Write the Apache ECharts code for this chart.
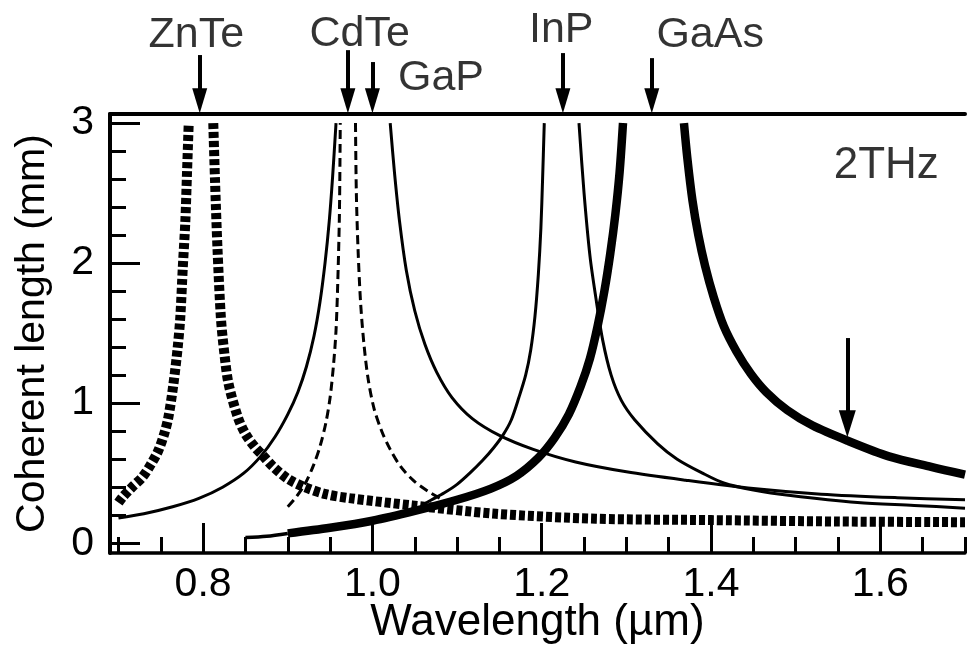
<!DOCTYPE html>
<html>
<head>
<meta charset="utf-8">
<script src="https://cdn.jsdelivr.net/npm/echarts@6/dist/echarts.min.js"></script>
<style>
html,body{margin:0;padding:0;background:#fff;}
#chart{width:967px;height:652px;}
</style>
</head>
<body>
<div id="chart"></div>
<script>
// ---------------- data ----------------
const xTickLabels = [0.8, 1.0, 1.2, 1.4, 1.6];
const xMinorTicks = [0.7, 0.75, 0.85, 0.9, 0.95, 1.05, 1.1, 1.15, 1.25, 1.3, 1.35, 1.45, 1.5, 1.55, 1.65, 1.7];
const yTickLabels = [0, 1, 2, 3];
const yMinorTicks = [0.2, 0.4, 0.6, 0.8, 1.2, 1.4, 1.6, 1.8, 2.2, 2.4, 2.6, 2.8];

// ZnTe (thick dotted)
const znteLeftX  = [0.700, 0.705, 0.716, 0.728, 0.738, 0.747, 0.754, 0.759, 0.765, 0.770, 0.773, 0.776, 0.779, 0.781, 0.783];
const znteLeftY  = [0.29, 0.33, 0.40, 0.47, 0.56, 0.66, 0.78, 0.90, 1.14, 1.40, 1.61, 1.97, 2.30, 2.65, 3.00];
const znteRightX = [0.812, 0.814, 0.817, 0.821, 0.825, 0.830, 0.841, 0.850, 0.862, 0.870, 0.882, 0.900, 0.920, 0.945, 0.975, 1.047, 1.146, 1.264, 1.400, 1.550, 1.700];
const znteRightY = [3.00, 2.60, 2.10, 1.61, 1.36, 1.14, 0.90, 0.78, 0.68, 0.63, 0.55, 0.46, 0.40, 0.35, 0.32, 0.27, 0.21, 0.175, 0.165, 0.155, 0.15];

// GaP (thin solid)
const gapLeftX  = [0.700, 0.730, 0.764, 0.795, 0.823, 0.848, 0.868, 0.885, 0.900, 0.912, 0.922, 0.931, 0.938, 0.944, 0.949, 0.953, 0.957];
const gapLeftY  = [0.18, 0.21, 0.26, 0.32, 0.40, 0.50, 0.62, 0.76, 0.92, 1.08, 1.26, 1.48, 1.72, 2.00, 2.30, 2.62, 3.00];
const gapRightX = [1.021, 1.026, 1.032, 1.040, 1.050, 1.062, 1.076, 1.094, 1.118, 1.150, 1.190, 1.240, 1.300, 1.370, 1.450, 1.530, 1.620, 1.700];
const gapRightY = [3.00, 2.65, 2.30, 1.95, 1.66, 1.42, 1.22, 1.04, 0.89, 0.77, 0.67, 0.58, 0.51, 0.45, 0.39, 0.35, 0.325, 0.31];

// CdTe (dashed)
const cdteLeftX  = [0.900, 0.910, 0.920, 0.930, 0.938, 0.945, 0.950, 0.954, 0.957, 0.959, 0.961, 0.962];
const cdteLeftY  = [0.26, 0.33, 0.42, 0.55, 0.69, 0.86, 1.04, 1.27, 1.52, 1.85, 2.35, 3.00];
const cdteRightX = [0.980, 0.981, 0.983, 0.986, 0.990, 0.995, 1.002, 1.011, 1.021, 1.033, 1.048, 1.066, 1.083];
const cdteRightY = [3.00, 2.50, 2.10, 1.72, 1.42, 1.17, 0.96, 0.80, 0.67, 0.55, 0.45, 0.37, 0.31];

// InP (thin solid)
const inpLeftX  = [1.058, 1.070, 1.085, 1.100, 1.115, 1.130, 1.143, 1.154, 1.164, 1.173, 1.181, 1.187, 1.192, 1.196, 1.199, 1.201, 1.203];
const inpLeftY  = [0.27, 0.31, 0.36, 0.42, 0.50, 0.59, 0.68, 0.77, 0.88, 1.04, 1.20, 1.38, 1.62, 1.92, 2.25, 2.60, 3.00];
const inpRightX = [1.244, 1.250, 1.257, 1.264, 1.272, 1.282, 1.294, 1.310, 1.337, 1.360, 1.390, 1.415, 1.450, 1.494, 1.573, 1.640, 1.700];
const inpRightY = [3.00, 2.50, 2.05, 1.75, 1.45, 1.20, 1.02, 0.88, 0.71, 0.60, 0.50, 0.43, 0.38, 0.34, 0.29, 0.27, 0.25];

// GaAs (thick solid)
const gaasThinX  = [0.850, 0.875, 0.900];
const gaasThinY  = [0.04, 0.05, 0.07];
const gaasLeftX  = [0.900, 0.950, 1.000, 1.050, 1.100, 1.140, 1.170, 1.196, 1.215, 1.232, 1.246, 1.257, 1.266, 1.274, 1.281, 1.287, 1.292, 1.296];
const gaasLeftY  = [0.07, 0.11, 0.16, 0.23, 0.31, 0.39, 0.48, 0.61, 0.75, 0.92, 1.12, 1.32, 1.55, 1.80, 2.07, 2.35, 2.65, 3.00];
const gaasRightX = [1.368, 1.372, 1.378, 1.385, 1.393, 1.403, 1.415, 1.430, 1.447, 1.465, 1.490, 1.520, 1.562, 1.610, 1.660, 1.700];
const gaasRightY = [3.00, 2.75, 2.45, 2.20, 1.98, 1.76, 1.55, 1.37, 1.21, 1.08, 0.95, 0.84, 0.73, 0.62, 0.545, 0.49];

// annotations (wavelength markers above the frame)
const materials     = ['ZnTe', 'CdTe', 'GaP', 'InP', 'GaAs'];
const arrowLambda   = [0.796, 0.971, 1.000, 1.225, 1.330];
const arrowStart    = [3.486, 3.521, 3.436, 3.500, 3.464];
const arrowTip      = 3.071;
const labelLambda   = [0.792, 0.985, 1.081, 1.223, 1.399];
const labelLevel    = [3.629, 3.636, 3.321, 3.664, 3.629];
const freqLabel     = '2THz';
const freqLabelPos  = [1.607, 2.693];
const markerLambda  = 1.561;
const markerStart   = 1.465;
const markerTip     = 0.757;

// ---------------- chart ----------------
const FONT = 'Liberation Sans';
const xMin = 0.69, xMax = 1.70, yMin = -0.07, yMax = 3.065;
const gridTop = 114, gridBottom = 99, H = 652;
const plotH = H - gridTop - gridBottom;
const perPx = (yMax - yMin) / plotH;
const yMax2 = yMax + gridTop * perPx;

const pairs = (xs, ys) => xs.map((x, i) => [x, ys[i]]);
function curve(name, xs, ys, width, type) {
  return {
    name: name, type: 'line', xAxisIndex: 0, yAxisIndex: 0,
    data: pairs(xs, ys), showSymbol: false, symbol: 'none',
    smooth: 0.3, silent: true,
    lineStyle: { color: '#000', width: width, type: type || 'solid', cap: 'butt', join: 'round' },
    z: 3
  };
}

const headTop = [15, 25];
const headMid = [17, 27];
const topArrows = arrowLambda.map((x, i) => [
  { coord: [x, arrowStart[i]] },
  { coord: [x, arrowTip + headTop[1] / 2 * perPx], symbolSize: headTop }
]);
const midArrow = [[
  { coord: [markerLambda, markerStart] },
  { coord: [markerLambda, markerTip + headMid[1] / 2 * perPx], symbolSize: headMid }
]];

const tickStyle = { color: '#000', width: 3 };

const option = {
  animation: false,
  backgroundColor: '#fff',
  textStyle: { fontFamily: FONT, color: '#000' },
  grid: [
    { left: 110, right: 2, top: gridTop, bottom: gridBottom, outerBoundsMode: 'none', containLabel: false },
    { left: 110, right: 2, top: 0, height: gridTop, outerBoundsMode: 'none', containLabel: false }
  ],
  xAxis: [
    {
      gridIndex: 0, type: 'value', position: 'bottom', min: xMin, max: xMax,
      axisLine: { show: true, onZero: false, lineStyle: { color: '#000', width: 3.5 } },
      axisTick: { show: true, inside: true, length: 30, customValues: xTickLabels, lineStyle: tickStyle },
      axisLabel: { show: true, customValues: xTickLabels, formatter: v => v.toFixed(1),
                   color: '#000', fontSize: 41, fontFamily: FONT, margin: 32, verticalAlign: 'middle' },
      splitLine: { show: false },
      name: 'Wavelength (µm)', nameLocation: 'middle', nameGap: 70, nameMoveOverlap: false,
      nameTextStyle: { color: '#000', fontSize: 44, fontFamily: FONT, verticalAlign: 'middle' }
    },
    {
      gridIndex: 0, type: 'value', position: 'bottom', min: xMin, max: xMax,
      axisLine: { show: false, onZero: false },
      axisTick: { show: true, inside: true, length: 16, customValues: xMinorTicks, lineStyle: tickStyle },
      axisLabel: { show: false }, splitLine: { show: false }
    },
    {
      gridIndex: 0, type: 'value', position: 'top', min: xMin, max: xMax,
      axisLine: { show: true, onZero: false, lineStyle: { color: '#000', width: 4 } },
      axisTick: { show: false }, axisLabel: { show: false }, splitLine: { show: false }
    },
    { gridIndex: 1, type: 'value', min: xMin, max: xMax, show: false }
  ],
  yAxis: [
    {
      gridIndex: 0, type: 'value', position: 'left', min: yMin, max: yMax,
      axisLine: { show: true, onZero: false, lineStyle: { color: '#000', width: 4 } },
      axisTick: { show: true, inside: true, length: 30, customValues: yTickLabels, lineStyle: tickStyle },
      axisLabel: { show: true, customValues: yTickLabels, formatter: v => String(Math.round(v)),
                   color: '#000', fontSize: 41, fontFamily: FONT, margin: 16 },
      splitLine: { show: false },
      name: 'Coherent length (mm)', nameLocation: 'middle', nameRotate: 90, nameGap: 77, nameMoveOverlap: false,
      nameTextStyle: { color: '#000', fontSize: 41, fontFamily: FONT, verticalAlign: 'middle' }
    },
    {
      gridIndex: 0, type: 'value', position: 'left', min: yMin, max: yMax,
      axisLine: { show: false, onZero: false },
      axisTick: { show: true, inside: true, length: 16, customValues: yMinorTicks, lineStyle: tickStyle },
      axisLabel: { show: false }, splitLine: { show: false }
    },
    { gridIndex: 1, type: 'value', min: yMax, max: yMax2, show: false }
  ],
  series: [
    curve('ZnTe', znteLeftX, znteLeftY, 10, [6, 3]),
    curve('ZnTe', znteRightX, znteRightY, 10, [6, 3]),
    curve('GaP', gapLeftX, gapLeftY, 3),
    curve('GaP', gapRightX, gapRightY, 3),
    curve('CdTe', cdteLeftX, cdteLeftY, 3, [9, 5]),
    curve('CdTe', cdteRightX, cdteRightY, 3, [9, 5]),
    curve('InP', inpLeftX, inpLeftY, 3),
    curve('InP', inpRightX, inpRightY, 3),
    curve('GaAs', gaasThinX, gaasThinY, 3.5),
    curve('GaAs', gaasLeftX, gaasLeftY, 8.5),
    curve('GaAs', gaasRightX, gaasRightY, 8.5),
    {
      type: 'scatter', xAxisIndex: 0, yAxisIndex: 0, silent: true, symbolSize: 1,
      itemStyle: { color: 'rgba(0,0,0,0)' },
      data: [{ name: freqLabel, value: freqLabelPos }],
      label: { show: true, position: 'inside', formatter: '{b}', color: '#000', fontSize: 44, fontFamily: FONT },
      markLine: {
        silent: true, symbol: ['none', 'triangle'],
        lineStyle: { color: '#000', width: 4, type: 'solid' },
        itemStyle: { color: '#000' },
        label: { show: false }, emphasis: { disabled: true },
        data: midArrow
      },
      z: 5
    },
    {
      type: 'scatter', xAxisIndex: 3, yAxisIndex: 2, silent: true, symbolSize: 1,
      itemStyle: { color: 'rgba(0,0,0,0)' },
      data: materials.map((n, i) => ({ name: n, value: [labelLambda[i], labelLevel[i]] })),
      label: { show: true, position: 'inside', formatter: '{b}', color: '#000', fontSize: 43, fontFamily: FONT },
      markLine: {
        silent: true, symbol: ['none', 'triangle'],
        lineStyle: { color: '#000', width: 4, type: 'solid' },
        itemStyle: { color: '#000' },
        label: { show: false }, emphasis: { disabled: true },
        data: topArrows
      },
      z: 5
    }
  ]
};

const chart = echarts.init(document.getElementById('chart'));
chart.setOption(option);
</script>
</body>
</html>
